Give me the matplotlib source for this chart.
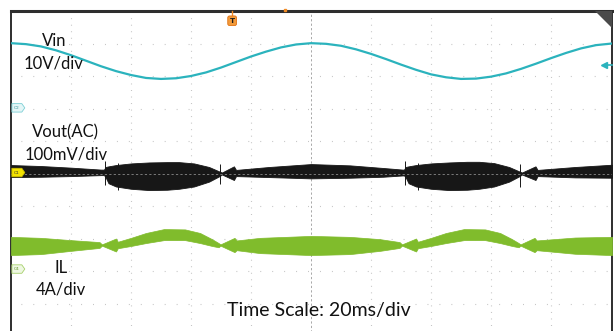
import matplotlib
matplotlib.use("Agg")
import matplotlib.pyplot as plt
from matplotlib.patches import Polygon
import numpy as np

plt.rcParams['lines.scale_dashes'] = False
plt.rcParams['font.family'] = ['Lato', 'DejaVu Sans']

# ---- data (time in ms, amplitude in scope divisions) ----
vin_t = [0, 5, 10, 15, 20, 25, 30, 35, 40, 45, 50, 55, 60, 65, 70, 75, 80, 85, 90, 95,
         100, 105, 110, 115, 120, 125, 130, 135, 140, 145, 150, 155, 160, 165, 170, 175,
         180, 185, 190, 195, 200.3]
vin_div = [4.01, 3.98, 3.91, 3.79, 3.64, 3.47, 3.30, 3.15, 3.03, 2.94, 2.91, 2.93, 3.00,
           3.11, 3.26, 3.43, 3.60, 3.75, 3.88, 3.97, 4.01, 3.99, 3.93, 3.82, 3.68, 3.52,
           3.35, 3.19, 3.05, 2.96, 2.91, 2.92, 2.98, 3.08, 3.22, 3.38, 3.55, 3.71, 3.85,
           3.95, 4.00]

vout_t = [0, 10, 20, 30, 31.0, 31.5, 32.5, 35, 40, 46, 52, 56, 61, 66, 69.5, 70.3, 74.3,
          75.0, 86, 100, 113, 124, 130.5, 131.0, 131.5, 132.5, 135, 140, 146, 152, 156,
          161, 166, 169.5, 170.3, 174.8, 175.5, 188, 200.3]
vout_hi = [0.26, 0.23, 0.18, 0.12, 0.12, 0.20, 0.22, 0.26, 0.31, 0.34, 0.35, 0.35, 0.31,
           0.20, 0.06, 0.03, 0.22, 0.11, 0.20, 0.29, 0.25, 0.17, 0.12, 0.12, 0.20, 0.22,
           0.26, 0.31, 0.34, 0.36, 0.36, 0.32, 0.20, 0.06, 0.03, 0.22, 0.11, 0.20, 0.27]
vout_lo = [-0.11, -0.10, -0.08, -0.05, -0.05, -0.11, -0.30, -0.40, -0.47, -0.51, -0.50,
           -0.47, -0.40, -0.25, -0.08, -0.03, -0.20, -0.08, -0.11, -0.15, -0.13, -0.10,
           -0.06, -0.06, -0.11, -0.30, -0.40, -0.47, -0.51, -0.50, -0.47, -0.40, -0.25,
           -0.08, -0.03, -0.20, -0.08, -0.12, -0.13]

spike_t = [31.3, 35.5, 69.7, 131.3, 135.5, 169.7]
spike_top = [0.40, 0.33, 0.30, 0.40, 0.33, 0.30]
spike_bot = [-0.36, -0.52, -0.33, -0.36, -0.52, -0.40]

il_t = [0, 10, 20, 29.5, 30.3, 35.0, 35.6, 40, 45, 51, 58, 63, 67, 69.2, 69.8, 74.5,
        75.2, 83, 100, 113, 123, 129.5, 130.3, 135.0, 135.6, 140, 145, 151, 158, 163,
        167, 169.2, 169.8, 174.5, 175.2, 188, 200.3]
il_hi = [-1.95, -1.98, -2.05, -2.11, -2.18, -2.00, -2.10, -1.98, -1.83, -1.71, -1.72,
         -1.83, -2.02, -2.14, -2.18, -1.98, -2.06, -1.98, -1.92, -1.95, -2.02, -2.11,
         -2.18, -2.00, -2.10, -1.98, -1.83, -1.71, -1.72, -1.83, -2.02, -2.14, -2.18,
         -1.98, -2.06, -1.97, -1.95]
il_lo = [-2.51, -2.48, -2.38, -2.29, -2.22, -2.40, -2.30, -2.23, -2.14, -2.05, -2.05,
         -2.14, -2.23, -2.27, -2.22, -2.42, -2.36, -2.45, -2.51, -2.48, -2.38, -2.29,
         -2.22, -2.40, -2.30, -2.23, -2.14, -2.05, -2.05, -2.14, -2.23, -2.27, -2.22,
         -2.42, -2.36, -2.47, -2.51]

channel_tags = ['C2', 'C1', 'C4']
channel_levels = [2.02, 0.03, -2.94]

label_text = ['Vin', '10V/div', 'Vout(AC)', '100mV/div', 'IL', '4A/div']
time_scale_text = 'Time Scale: 20ms/div'

# ---- colours ----
C_VIN = '#2bb3bd'
C_OUT = '#171717'
C_IL = '#80bc2c'

fig = plt.figure(figsize=(6.14, 3.31), dpi=100)
ax = fig.add_axes([11/614, -5/331, 601/614, 325/331])
ax.set_xlim(0, 200.3)
ax.set_ylim(-5, 5)
ax.set_xticks([])
ax.set_yticks([])

# grid
for k in range(1, 10):
    x = 20 * k
    if k == 5:
        ax.plot([x, x], [-5, 5], color='#a8a8a8', lw=0.7, ls=(0, (1.6, 1.6)), zorder=1)
    else:
        ax.plot([x, x], [-5, 5], color='#c4c4c4', lw=0.8, ls=(0, (0.7, 4.0)), zorder=1)
for j in range(-4, 5):
    if j == 0:
        continue
    ax.plot([0, 200.3], [j, j], color='#c4c4c4', lw=0.8, ls=(1.5, (0.7, 7.9)), zorder=1)

# traces
ax.plot(vin_t, vin_div, color=C_VIN, lw=1.6, zorder=3, solid_capstyle='butt')
ax.fill_between(vout_t, vout_lo, vout_hi, color=C_OUT, lw=0.6, edgecolor=C_OUT, zorder=3)
ax.vlines(spike_t, spike_bot, spike_top, color=C_OUT, lw=0.7, zorder=3)
ax.fill_between(il_t, il_lo, il_hi, color=C_IL, lw=0.5, edgecolor=C_IL, zorder=3)

# horizontal centre line drawn over traces
ax.plot([0, 200.3], [0, 0], color='#8a8a8a', lw=0.6, ls=(0, (1.6, 1.6)), zorder=4)

# channel tags on the left
tag_face = ['#e4f6f7', '#f3e300', '#eef7e2']
tag_edge = ['#7ccfd5', '#cbbd00', '#a6d06a']
tag_txt = ['#3c9aa0', '#333333', '#5f9428']
for name, lvl, fc, ec, tc in zip(channel_tags, channel_levels, tag_face, tag_edge, tag_txt):
    h = 0.13
    poly = Polygon([(0.3, lvl + h), (3.6, lvl + h), (4.6, lvl), (3.6, lvl - h), (0.3, lvl - h)],
                   closed=True, facecolor=fc, edgecolor=ec, lw=0.6, zorder=5)
    ax.add_patch(poly)
    ax.text(2.0, lvl, name, fontsize=3.2, color=tc, ha='center', va='center', zorder=6,
            family='DejaVu Sans')

# trigger level arrow on the right
ax.plot([198.0, 200.3], [3.34, 3.34], color=C_VIN, lw=1.2, zorder=5, clip_on=False)
ax.plot([197.8], [3.34], marker='<', ms=4.5, color=C_VIN, zorder=5, clip_on=False)

# trigger position marker
ax.plot([73.7, 73.7], [4.85, 5.0], color='#f08a24', lw=1.0, zorder=5, clip_on=False)
ax.text(73.7, 4.70, 'T', fontsize=5.2, color='#1a1a1a', ha='center', va='center',
        fontweight='bold', family='DejaVu Sans', zorder=6,
        bbox=dict(boxstyle='round,pad=0.25', fc='#f29a3a', ec='#e07010', lw=0.6))
ax.plot([91.3], [5.04], marker='s', ms=1.8, color='#f08a24', zorder=6, clip_on=False)

# corner triangle
ax.add_patch(Polygon([(194.7, 5), (200.3, 5), (200.3, 4.48)], closed=True,
                     facecolor='#4a4a4a', edgecolor='none', zorder=6))

# labels
fs = 12.0
ax.text(14.5, 4.08, label_text[0], fontsize=fs, ha='center', va='center', color='#111111', zorder=7)
ax.text(14.2, 3.37, label_text[1], fontsize=fs, ha='center', va='center', color='#111111', zorder=7)
ax.text(18.3, 1.28, label_text[2], fontsize=fs, ha='center', va='center', color='#111111', zorder=7)
ax.text(18.3, 0.57, label_text[3], fontsize=fs, ha='center', va='center', color='#111111', zorder=7)
ax.text(16.8, -2.91, label_text[4], fontsize=fs, ha='center', va='center', color='#111111', zorder=7)
ax.text(16.7, -3.58, label_text[5], fontsize=fs, ha='center', va='center', color='#111111', zorder=7)
ax.text(102.7, -4.23, time_scale_text, fontsize=14.0, ha='center', va='center', color='#111111', zorder=7)

# frame
ax.spines['bottom'].set_visible(False)
ax.spines['top'].set_linewidth(2.2)
ax.spines['top'].set_color('#2e2e2e')
ax.spines['left'].set_linewidth(1.3)
ax.spines['left'].set_color('#1e1e1e')
ax.spines['right'].set_linewidth(1.3)
ax.spines['right'].set_color('#1e1e1e')

fig.savefig('out.png', dpi=100)
